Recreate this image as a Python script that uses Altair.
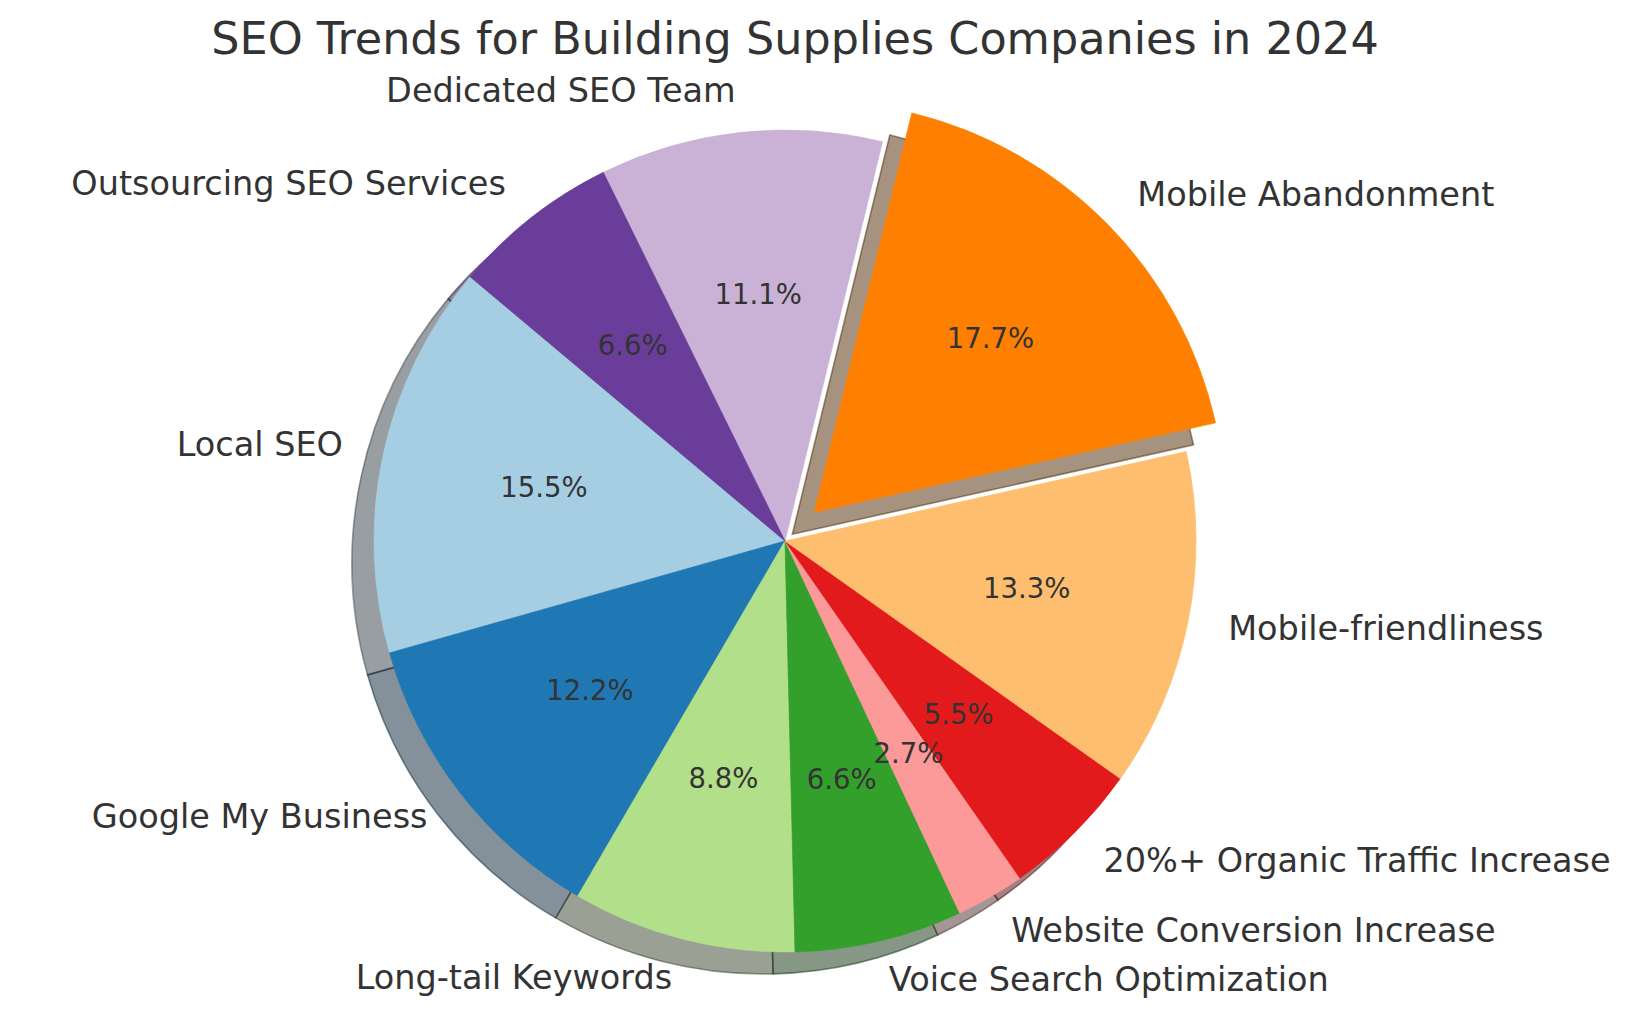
import altair as alt
import pandas as pd

# ---- data ----
labels = [
    "Local SEO",
    "Google My Business",
    "Long-tail Keywords",
    "Voice Search Optimization",
    "Website Conversion Increase",
    "20%+ Organic Traffic Increase",
    "Mobile-friendliness",
    "Mobile Abandonment",
    "Dedicated SEO Team",
    "Outsourcing SEO Services",
]
values = [15.5, 12.2, 8.8, 6.6, 2.7, 5.5, 13.3, 17.7, 11.1, 6.6]
explode = [0, 0, 0, 0, 0, 0, 0, 0.1, 0, 0]
title_text = "SEO Trends for Building Supplies Companies in 2024"

# ---- styles ----
colors = ["#a6cee3", "#1f78b4", "#b2df8a", "#33a02c", "#fb9a99",
          "#e31a1c", "#fdbf6f", "#ff7f00", "#cab2d6", "#6a3d9a"]


def shade(c, k=0.3):
    r, g, b = int(c[1:3], 16), int(c[3:5], 16), int(c[5:7], 16)
    return "#%02x%02x%02x" % (int(r * k), int(g * k), int(b * k))


shadow_colors = [shade(c) for c in colors]

TEXT = "#333333"
FONT = "DejaVu Sans"
W, H = 1613, 1002
CX, CY, R = 777, 533, 411
START = 140
SDX, SDY = -22, 22

df = pd.DataFrame({"label": labels, "value": values, "explode": explode,
                   "order": list(range(len(labels)))})

base = (
    alt.Chart(df)
    .transform_window(cum="sum(value)", sort=[alt.SortField("order")], frame=[None, 0])
    .transform_joinaggregate(total="sum(value)")
    .transform_calculate(
        a0=f"{START} + 360 * (datum.cum - datum.value) / datum.total",
        a1=f"{START} + 360 * datum.cum / datum.total",
    )
    .transform_calculate(
        t0="(90 - datum.a0) * PI / 180",
        t1="(90 - datum.a1) * PI / 180",
        mid="(datum.a0 + datum.a1) / 2 * PI / 180",
    )
    .transform_calculate(
        cx=f"{CX} + datum.explode * {R} * cos(datum.mid)",
        cy=f"{CY} - datum.explode * {R} * sin(datum.mid)",
    )
    .transform_calculate(
        sx=f"datum.cx + ({SDX})",
        sy=f"datum.cy + ({SDY})",
        lx=f"datum.cx + 1.1 * {R} * cos(datum.mid)",
        ly=f"datum.cy - 1.1 * {R} * sin(datum.mid)",
        px=f"datum.cx + 0.6 * {R} * cos(datum.mid)",
        py=f"datum.cy - 0.6 * {R} * sin(datum.mid)",
        pct="format(100 * datum.value / datum.total, '.1f') + '%'",
        side="cos(datum.mid) > 0 ? 'right' : 'left'",
    )
)

sh_scale = alt.Scale(domain=labels, range=shadow_colors)
col_scale = alt.Scale(domain=labels, range=colors)

shadow = base.mark_arc(radius=R, fillOpacity=0.5, strokeOpacity=0.5, strokeWidth=1.6).encode(
    x=alt.X("sx:Q", scale=None),
    y=alt.Y("sy:Q", scale=None),
    theta=alt.Theta("t0:Q", scale=None),
    theta2=alt.Theta2("t1:Q"),
    fill=alt.Fill("label:N", scale=sh_scale, legend=None),
    stroke=alt.Stroke("label:N", scale=sh_scale, legend=None),
)

wedges = base.mark_arc(radius=R, strokeWidth=0.7).encode(
    x=alt.X("cx:Q", scale=None),
    y=alt.Y("cy:Q", scale=None),
    theta=alt.Theta("t0:Q", scale=None),
    theta2=alt.Theta2("t1:Q"),
    fill=alt.Fill("label:N", scale=col_scale, legend=None),
    stroke=alt.Stroke("label:N", scale=col_scale, legend=None),
)

pct = base.mark_text(font=FONT, fontSize=27.5, color=TEXT, align="center", baseline="middle").encode(
    x=alt.X("px:Q", scale=None),
    y=alt.Y("py:Q", scale=None),
    text="pct:N",
)

lab_right = base.transform_filter("datum.side == 'right'").mark_text(
    font=FONT, fontSize=33.5, color=TEXT, align="left", baseline="middle"
).encode(x=alt.X("lx:Q", scale=None), y=alt.Y("ly:Q", scale=None), text="label:N")

lab_left = base.transform_filter("datum.side == 'left'").mark_text(
    font=FONT, fontSize=33.5, color=TEXT, align="right", baseline="middle"
).encode(x=alt.X("lx:Q", scale=None), y=alt.Y("ly:Q", scale=None), text="label:N")

title = alt.Chart(pd.DataFrame({"t": [title_text]})).mark_text(
    font=FONT, fontSize=44.5, color=TEXT, align="center", baseline="alphabetic"
).encode(x=alt.value(787), y=alt.value(46), text="t:N")

chart = (
    alt.layer(shadow, wedges, pct, lab_right, lab_left, title)
    .resolve_scale(fill="independent", stroke="independent")
    .properties(width=W, height=H, autosize=alt.AutoSizeParams(type="none"), padding=0)
    .configure_view(strokeWidth=0)
)

chart.save("out.html", embed_options={"renderer": "svg", "actions": False})
